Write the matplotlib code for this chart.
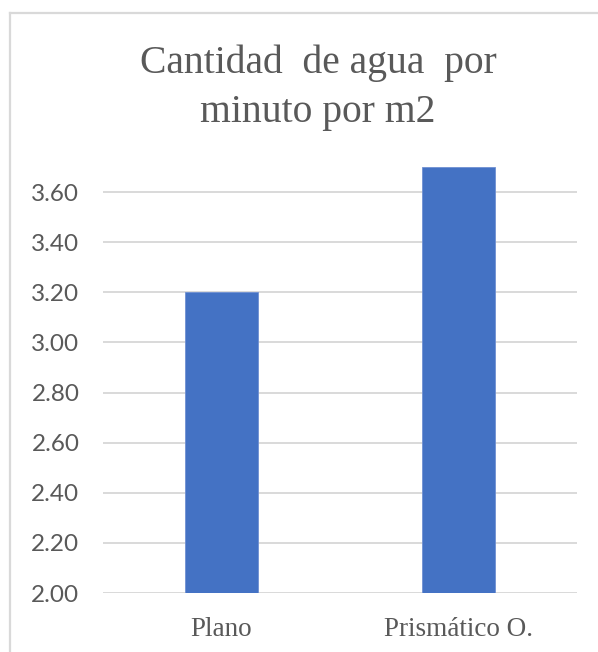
import matplotlib
matplotlib.use("Agg")
import matplotlib.pyplot as plt
from matplotlib.lines import Line2D

# Data
categories = ["Plano", "Prismático O."]
values = [3.20, 3.70]
yticks = [2.00, 2.20, 2.40, 2.60, 2.80, 3.00, 3.20, 3.40, 3.60]
title = "Cantidad  de agua  por\nminuto por m2"

W, H = 598, 652
fig = plt.figure(figsize=(W / 100, H / 100), dpi=100)
fig.patch.set_facecolor("white")

text_gray = "#595959"
grid_gray = "#d9d9d9"
bar_blue = "#4472C4"

# Chart frame (left and top edges visible)
fig.add_artist(Line2D([10 / W, 1.0], [1 - 13 / H, 1 - 13 / H], color=grid_gray, lw=1.6,
                      transform=fig.transFigure))
fig.add_artist(Line2D([10 / W, 10 / W], [0.0, 1 - 13 / H], color=grid_gray, lw=1.6,
                      transform=fig.transFigure))

ax = fig.add_axes([103 / W, 59 / H, 474 / W, 426 / H])
x = range(len(categories))
ax.bar(x, values, width=0.31, bottom=0, color=bar_blue, edgecolor="#6f90d2", linewidth=0.6, zorder=3)
ax.set_xlim(-0.5, len(categories) - 0.5)
ax.set_ylim(2.0, 3.7)
ax.set_yticks(yticks)
ax.set_yticklabels([f"{v:.2f}" for v in yticks], family="Lato", fontsize=17.5, color=text_gray)
ax.set_xticks(list(x))
ax.set_xticklabels(categories, family="Liberation Serif", fontsize=19.5, color=text_gray)
ax.tick_params(axis="y", length=0, pad=17)
ax.tick_params(axis="x", length=0, pad=17)
ax.grid(axis="y", color=grid_gray, lw=1.4, zorder=0)
for s in ax.spines.values():
    s.set_visible(False)
ax.set_facecolor("white")

fig.text(318 / W, 1 - 44 / H, title, ha="center", va="top", family="Liberation Serif",
         fontsize=28.5, color=text_gray, linespacing=1.45)

fig.savefig("out.png", dpi=100, facecolor="white")
